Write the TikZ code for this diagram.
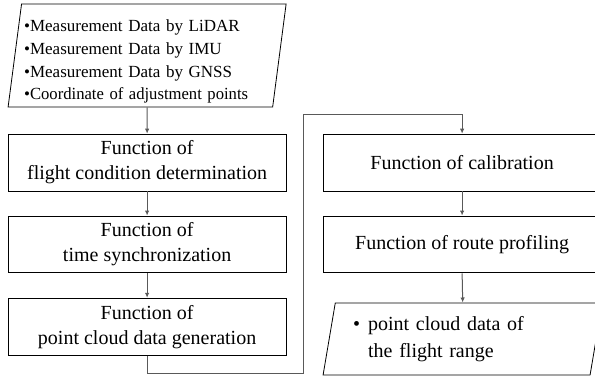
\documentclass[tikz,border=0pt]{standalone}
\usepackage{graphicx}
\usepackage{fontspec}
\setmainfont{Liberation Serif}
\usetikzlibrary{arrows.meta,positioning,shapes.geometric}

\begin{document}
\begin{tikzpicture}[>=Latex,
  fnbox/.style={draw=black,line width=0.8pt,minimum width=9.77cm,minimum height=2.0cm,align=center,font=\fontsize{20}{25}\selectfont,inner sep=2pt},
  iobox/.style={draw=black,line width=0.8pt,trapezium,trapezium stretches body,inner xsep=0pt,inner ysep=0pt,align=left},
  flow/.style={draw=black!65,line width=1pt,-{Latex[length=5pt,width=4.5pt]}}]
\useasboundingbox (0,0) rectangle (20.91,-13.29);
% left column
\node[iobox,trapezium left angle=82,trapezium right angle=98,minimum width=9.77cm,minimum height=3.62cm,text width=246pt,font=\fontsize{17}{22.7}\selectfont] (in) at (5.17,-1.95) {\rule{0pt}{24pt}\textbullet Measurement Data by LiDAR\\\textbullet Measurement Data by IMU\\\textbullet Measurement Data by GNSS\\\textbullet\resizebox{218pt}{\height}{Coordinate of adjustment points}};
\node[fnbox] (f1) at (5.17,-5.71) {Function of\\flight condition determination};
\node[fnbox] (f2) at (5.17,-8.59) {Function of\\time synchronization};
\node[fnbox] (f3) at (5.17,-11.48) {Function of\\point cloud data generation};
% right column
\node[fnbox] (cal) at (16.24,-5.71) {Function of calibration};
\node[fnbox] (rte) at (16.24,-8.59) {Function of route profiling};
\node[iobox,trapezium left angle=75,trapezium right angle=105,minimum width=9.81cm,minimum height=2.53cm,text width=219pt,font=\fontsize{20}{27}\selectfont] (out) at (16.26,-11.91) {\makebox[15pt][l]{\textbullet}point cloud data of\\\hspace*{15pt}the flight range};
% bends of the crossing line
\coordinate (jl) at (10.68,-13.14);
\coordinate (jt) at (10.68,-4.01);
\draw[flow] (in.south)--(f1.north);
\draw[flow] (f1.south)--(f2.north);
\draw[flow] (f2.south)--(f3.north);
\draw[flow] (f3.south) |- (jl) -- (jt) -| (cal.north);
\draw[flow] (cal.south)--(rte.north);
\draw[flow] (rte.south)--(out.north);
\end{tikzpicture}
\end{document}
